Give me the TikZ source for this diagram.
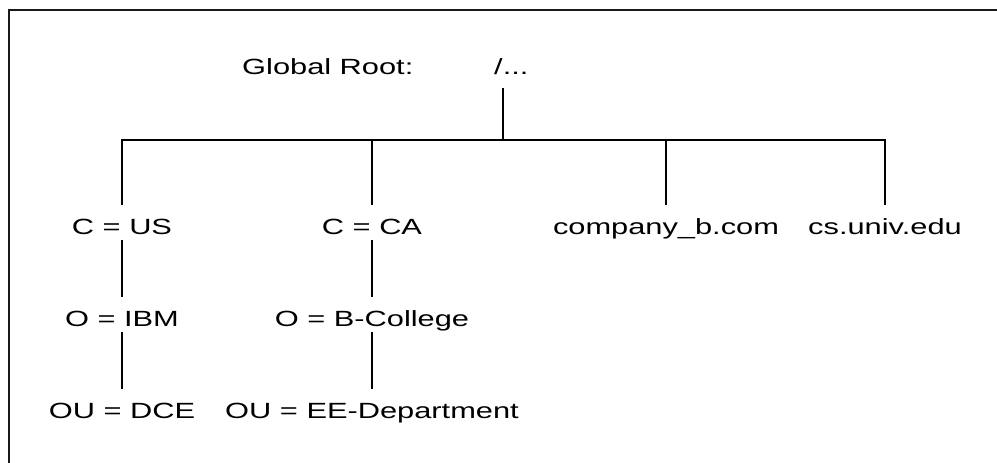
\documentclass[tikz,border=0pt]{standalone}
\usepackage{fontspec}
\setmainfont{Liberation Sans}[FakeStretch=1.4]
\usepackage{tikz}
\usetikzlibrary{positioning}
\tikzset{
  frame/.style={line width=2pt,black!90},
  connect/.style={line width=1.2pt,black},
  entry/.style={anchor=base,inner sep=0,text height=29pt,text depth=6pt,
    font=\fontsize{22}{26}\selectfont}
}
\newcommand{\dnentry}[3]{\node[entry] (#2) at (#1) {#3}}
\begin{document}
\begin{tikzpicture}[x=1pt,y=-1pt]
      \useasboundingbox (0,0) rectangle (997,463);
      \clip (0,0) rectangle (997,463);
      \draw[frame] (9,10) rectangle (1020,490);
      % root
      \node[entry,anchor=base west] (lbl) at (242,74) {Global Root:};
      \node[entry,anchor=base west] (root) at (494,74) {/...};
      \coordinate (hub) at (503,140);
      % first level
      \dnentry{122,234}{us}{C = US};
      \dnentry{372,234}{ca}{C = CA};
      \dnentry{666,234}{comp}{company\_b.com};
      \dnentry{885,234}{univ}{cs.univ.edu};
      % lower levels
      \dnentry{122,326}{ibm}{O = IBM};
      \dnentry{122,418}{dce}{OU = DCE};
      \dnentry{372,326}{bcol}{O = B-College};
      \dnentry{372,418}{eedep}{OU = EE-Department};
      \draw[connect]
      (root.south -| hub) ++(0,8) -- (hub)
      (us.north) |- (hub) -| (univ.north)
      (ca.north) -- (ca.north |- hub)
      (comp.north) -- (comp.north |- hub)
      (us) -- (ibm)
      (ibm) -- (dce)
      (ca) -- (bcol)
      (bcol) -- (eedep);
    \end{tikzpicture}
\end{document}
